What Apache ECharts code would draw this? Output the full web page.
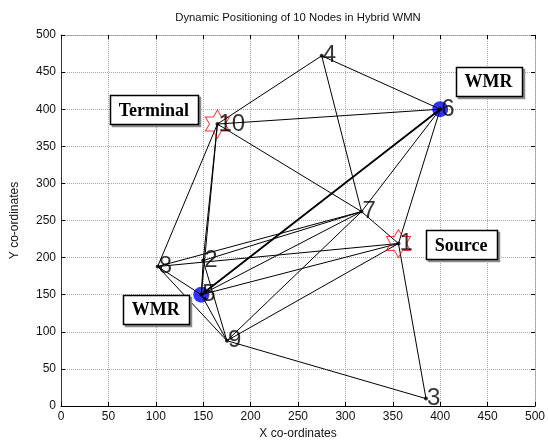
<!DOCTYPE html>
<html><head><meta charset="utf-8">
<script src="https://cdn.jsdelivr.net/npm/echarts@6/dist/echarts.min.js"></script>
<style>html,body{margin:0;padding:0;background:#fff}#c{width:548px;height:445px}</style>
</head><body><div id="c"></div>
<script>
// ---- data ----
const nodeIds = [1, 2, 3, 4, 5, 6, 7, 8, 9, 10];
const nodeX   = [356, 150, 385, 275, 148, 400, 317, 102, 175, 165];
const nodeY   = [219, 196, 10, 472, 150, 400, 262, 188, 88, 380];
const edges = [[4,10],[4,6],[4,7],[10,6],[10,7],[10,8],[10,5],[10,2],[6,5],[6,7],[6,1],
               [7,1],[7,8],[7,2],[7,5],[7,9],[1,8],[1,5],[1,9],[1,3],[8,5],[8,9],[5,9],[2,9],[2,5],[9,3]];
const heavyEdges = [[6,5]];
const wmrNodes = [5, 6];
const endNodes = [10, 1];
const noteText = ['Terminal', 'WMR', 'Source', 'WMR'];
const noteX = [98, 451, 422, 100];
const noteY = [399, 438, 217, 130];
const xTicks = [0, 50, 100, 150, 200, 250, 300, 350, 400, 450, 500];
const yTicks = [0, 50, 100, 150, 200, 250, 300, 350, 400, 450, 500];
const titleText = 'Dynamic Positioning of 10 Nodes in Hybrid WMN';
const xName = 'X co-ordinates';
const yName = 'Y co-ordinates';

// ---- build ----
const pos = id => { const i = nodeIds.indexOf(id); return [nodeX[i], nodeY[i]]; };
const hexagram = 'path://M100 0 L128.87 50 L186.6 50 L157.7 100 L186.6 150 L128.87 150 L100 200 L71.13 150 L13.4 150 L42.3 100 L13.4 50 L71.13 50 Z';
const FONT = '"Liberation Sans", Arial, sans-serif';
const SERIF = '"Liberation Serif", "Times New Roman", serif';
const NOTE_FONT = 'bold 18px ' + SERIF;

function mkX(position, main) {
  return {
    type: 'value', position, min: xTicks[0], max: xTicks[xTicks.length - 1], interval: xTicks[1] - xTicks[0],
    axisLine: { show: true, onZero: false, lineStyle: main ? { color: '#000', width: 1 } : { color: '#999', type: 'dotted' } },
    axisTick: { show: true, inside: true, length: 4, lineStyle: { color: '#000' } },
    axisLabel: { show: main, color: '#111', fontSize: 12, fontFamily: FONT, margin: 5 },
    splitLine: { show: main, lineStyle: { color: '#aaa', type: 'dotted', width: 1 } },
    name: main ? xName : '', nameLocation: 'middle', nameGap: 22,
    nameTextStyle: { color: '#111', fontSize: 12, fontFamily: FONT }
  };
}
function mkY(position, main) {
  return {
    type: 'value', position, min: yTicks[0], max: yTicks[yTicks.length - 1], interval: yTicks[1] - yTicks[0],
    axisLine: { show: true, onZero: false, lineStyle: main ? { color: '#333', width: 1 } : { color: '#999', type: 'dotted' } },
    axisTick: { show: true, inside: true, length: 4, lineStyle: { color: '#000' } },
    axisLabel: { show: main, color: '#111', fontSize: 12, fontFamily: FONT, margin: 5 },
    splitLine: { show: main, lineStyle: { color: '#aaa', type: 'dotted', width: 1 } },
    name: main ? yName : '', nameLocation: 'middle', nameGap: 40, nameRotate: 90,
    nameTextStyle: { color: '#111', fontSize: 12, fontFamily: FONT }
  };
}

const chart = echarts.init(document.getElementById('c'), null, { renderer: 'canvas' });
chart.setOption({
  animation: false,
  backgroundColor: '#fff',
  grid: { left: 61, right: 12, top: 35, bottom: 36, containLabel: false },
  xAxis: [mkX('bottom', true), mkX('top', false)],
  yAxis: [mkY('left', true), mkY('right', false)],
  series: [
    { type: 'scatter', z: 2, symbol: 'circle', symbolSize: 16, itemStyle: { color: '#0000ff' },
      data: wmrNodes.map(pos), silent: true },
    { type: 'lines', coordinateSystem: 'cartesian2d', z: 3, silent: true,
      lineStyle: { color: '#000', width: 1, opacity: 1 },
      data: edges.map(e => ({ coords: [pos(e[0]), pos(e[1])] })) },
    { type: 'lines', coordinateSystem: 'cartesian2d', z: 3, silent: true,
      lineStyle: { color: '#000', width: 1.8, opacity: 1 },
      data: heavyEdges.map(e => ({ coords: [pos(e[0]), pos(e[1])] })) },
    { type: 'scatter', z: 4, symbol: hexagram, symbolKeepAspect: false, symbolSize: [24, 28],
      itemStyle: { color: 'rgba(0,0,0,0)', borderColor: '#ff0000', borderWidth: 1 },
      data: endNodes.map(pos), silent: true },
    { type: 'scatter', z: 5, symbol: 'circle', symbolSize: 4, itemStyle: { color: '#000' },
      data: nodeIds.map(pos), silent: true,
      label: { show: true, position: 'right', distance: -1, color: '#000', fontSize: 24, fontFamily: FONT,
        formatter: p => String(nodeIds[p.dataIndex]) } }
  ]
});

// annotation boxes (MATLAB-style text boxes with drop shadow), anchored in data coordinates
const ctx = document.createElement('canvas').getContext('2d');
ctx.font = NOTE_FONT;
const graphics = [{
  type: 'text', x: 298, y: 18, z: 100,
  style: { text: titleText, fill: '#111', font: '11.3px ' + FONT, align: 'center', verticalAlign: 'middle' }
}];
noteText.forEach((t, i) => {
  const c = chart.convertToPixel({ xAxisIndex: 0, yAxisIndex: 0 }, [noteX[i], noteY[i]]);
  const w = Math.round(ctx.measureText(t).width) + 18;
  const h = 29;
  const x = Math.round(c[0] - w / 2) + 0.5, y = Math.round(c[1] - h / 2) + 0.5;
  graphics.push({ type: 'rect', z: 100, shape: { x: x + 2, y: y + 2, width: w, height: h },
    style: { fill: '#8c8c8c', stroke: '#8c8c8c', lineWidth: 1.5 } });
  graphics.push({ type: 'rect', z: 101, shape: { x, y, width: w, height: h },
    style: { fill: '#ffffff', stroke: '#000', lineWidth: 1.5 } });
  graphics.push({ type: 'text', z: 102, x: c[0], y: c[1] + 1,
    style: { text: t, fill: '#000', font: NOTE_FONT, align: 'center', verticalAlign: 'middle' } });
});
chart.setOption({ graphic: graphics });
</script></body></html>
